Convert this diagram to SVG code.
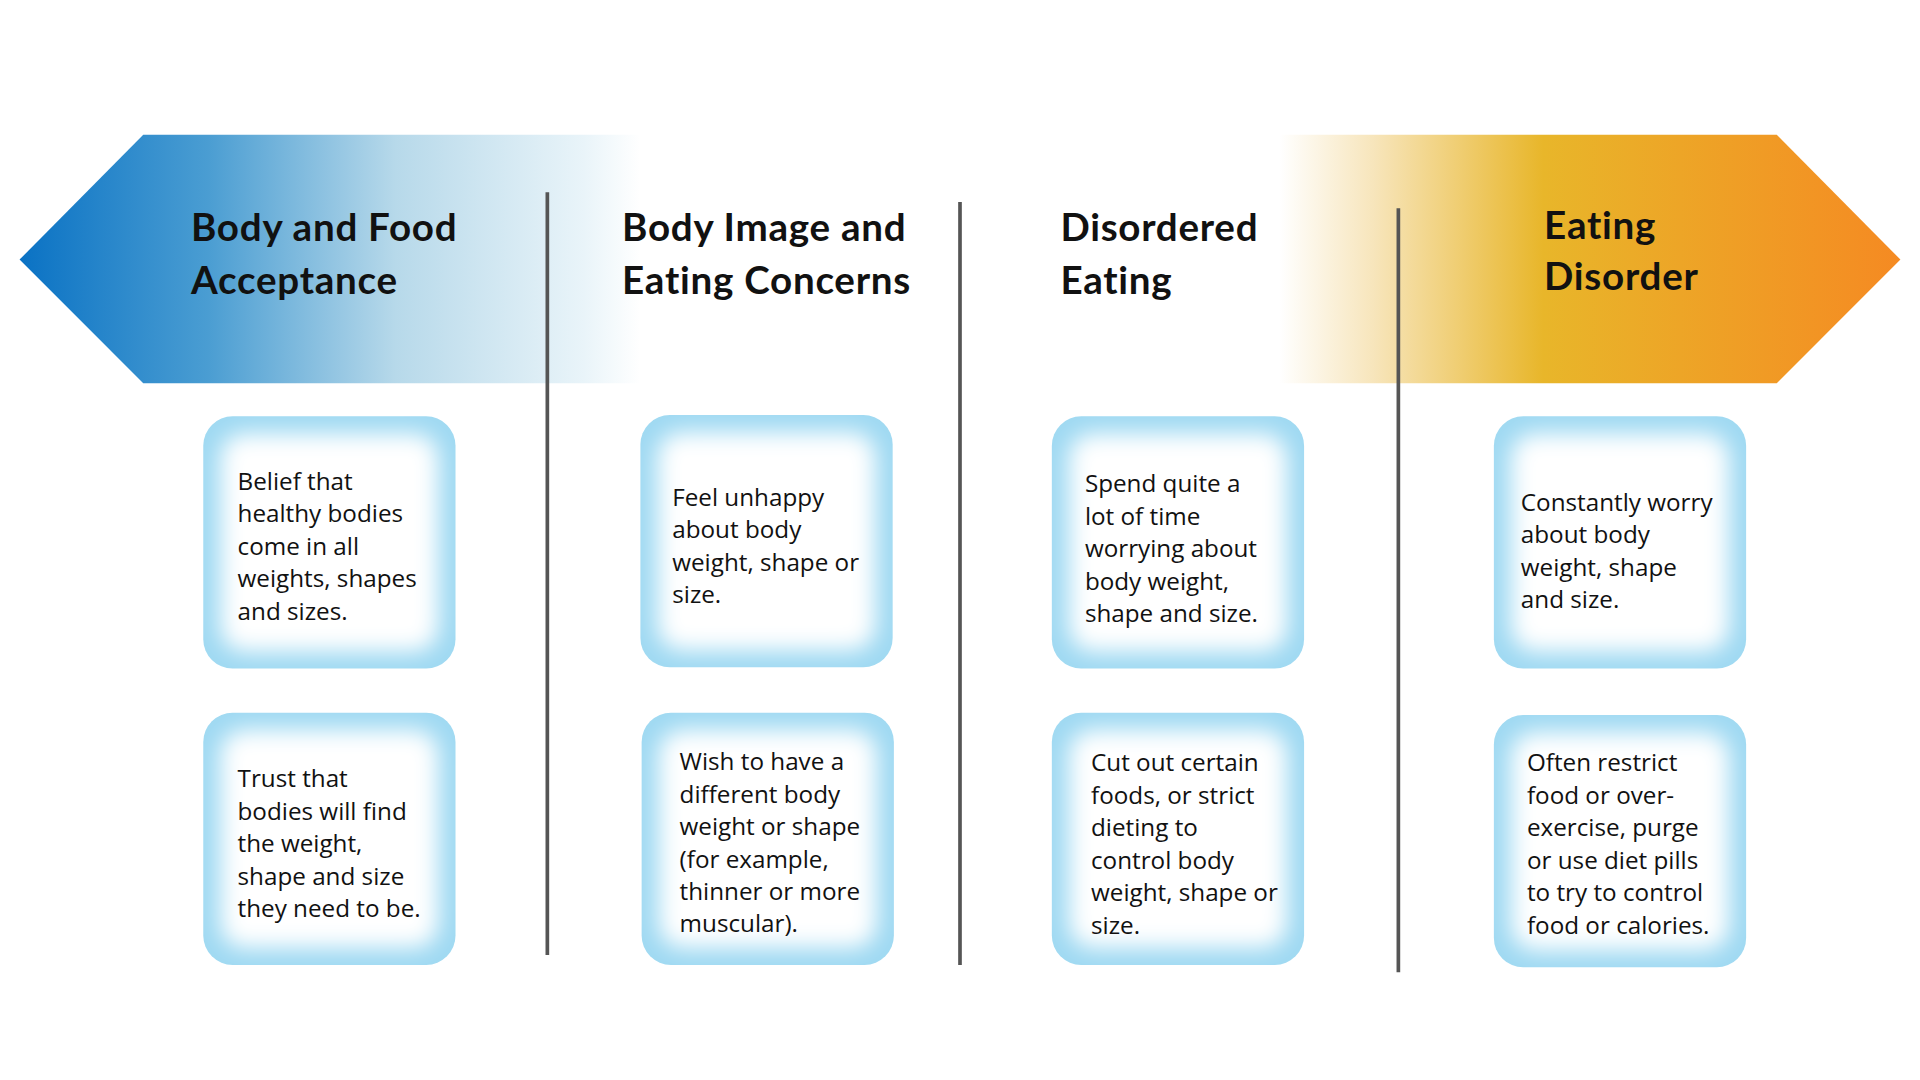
<svg xmlns="http://www.w3.org/2000/svg" width="1920" height="1080" viewBox="0 0 1920 1080">
<defs>
<linearGradient id="ban" x1="16" y1="0" x2="1552" y2="0" gradientUnits="userSpaceOnUse">
<stop offset="0" stop-color="#0a72c4"/>
<stop offset="0.1" stop-color="#4a9dd2"/>
<stop offset="0.2" stop-color="#b7d9ea"/>
<stop offset="0.3" stop-color="#e9f4f9"/>
<stop offset="0.33" stop-color="#ffffff"/>
<stop offset="0.67" stop-color="#ffffff"/>
<stop offset="0.72" stop-color="#f7e5bb"/>
<stop offset="0.81" stop-color="#e8b62a"/>
<stop offset="1" stop-color="#f58a22"/>
</linearGradient>
<filter id="glow" x="-10%" y="-10%" width="120%" height="120%"><feGaussianBlur stdDeviation="9"/></filter>
<g id="box"><rect x="0" y="0" width="206" height="206" rx="24" fill="#9fd9f2"/><rect x="14" y="14" width="178" height="178" rx="20" fill="#fff" filter="url(#glow)"/></g>
<style>
.t{font-family:Lato,"Open Sans",sans-serif;font-weight:700;font-size:31.5px;letter-spacing:0.6px;fill:#111}
.b{font-family:"Open Sans",Lato,sans-serif;font-size:19.8px;fill:#111}
.d{stroke:#555;stroke-width:3}
</style>
</defs>
<rect width="1920" height="1080" fill="#fff"/>
<g transform="scale(1.22449)">
<g id="banner"><polygon points="16,212 117,110 1451,110 1552,212 1451,313 117,313" fill="url(#ban)"/>
<text class="t" x="156" y="197">Body and Food</text><text class="t" x="156" y="240">Acceptance</text>
<text class="t" x="508" y="197">Body Image and</text><text class="t" x="508" y="240">Eating Concerns</text>
<text class="t" x="866" y="197">Disordered</text><text class="t" x="866" y="240">Eating</text>
<text class="t" x="1261" y="195">Eating</text><text class="t" x="1261" y="237">Disorder</text></g>
<g id="connectors"><line class="d" x1="447" y1="157" x2="447" y2="780"/><line class="d" x1="784" y1="165" x2="784" y2="788"/><line class="d" x1="1142" y1="170" x2="1142" y2="794"/></g>
<g id="n1"><use href="#box" x="166" y="340"/><text class="b"><tspan x="194" y="400">Belief that</tspan><tspan x="194" y="426.5">healthy bodies</tspan><tspan x="194" y="453">come in all</tspan><tspan x="194" y="479.5">weights, shapes</tspan><tspan x="194" y="506">and sizes.</tspan></text></g>
<g id="n2"><use href="#box" x="166" y="582"/><text class="b"><tspan x="194" y="643">Trust that</tspan><tspan x="194" y="669.5">bodies will find</tspan><tspan x="194" y="696">the weight,</tspan><tspan x="194" y="722.5">shape and size</tspan><tspan x="194" y="749">they need to be.</tspan></text></g>
<g id="n3"><use href="#box" x="523" y="339"/><text class="b"><tspan x="549" y="413">Feel unhappy</tspan><tspan x="549" y="439.5">about body</tspan><tspan x="549" y="466">weight, shape or</tspan><tspan x="549" y="492.5">size.</tspan></text></g>
<g id="n4"><use href="#box" x="524" y="582"/><text class="b"><tspan x="555" y="629">Wish to have a</tspan><tspan x="555" y="655.5">different body</tspan><tspan x="555" y="682">weight or shape</tspan><tspan x="555" y="708.5">(for example,</tspan><tspan x="555" y="735">thinner or more</tspan><tspan x="555" y="761.5">muscular).</tspan></text></g>
<g id="n5"><use href="#box" x="859" y="340"/><text class="b"><tspan x="886" y="402">Spend quite a</tspan><tspan x="886" y="428.5">lot of time</tspan><tspan x="886" y="455">worrying about</tspan><tspan x="886" y="481.5">body weight,</tspan><tspan x="886" y="508">shape and size.</tspan></text></g>
<g id="n6"><use href="#box" x="859" y="582"/><text class="b"><tspan x="891" y="630">Cut out certain</tspan><tspan x="891" y="656.5">foods, or strict</tspan><tspan x="891" y="683">dieting to</tspan><tspan x="891" y="709.5">control body</tspan><tspan x="891" y="736">weight, shape or</tspan><tspan x="891" y="762.5">size.</tspan></text></g>
<g id="n7"><use href="#box" x="1220" y="340"/><text class="b"><tspan x="1242" y="417">Constantly worry</tspan><tspan x="1242" y="443.5">about body</tspan><tspan x="1242" y="470">weight, shape</tspan><tspan x="1242" y="496.5">and size.</tspan></text></g>
<g id="n8"><use href="#box" x="1220" y="584"/><text class="b"><tspan x="1247" y="630">Often restrict</tspan><tspan x="1247" y="656.5">food or over-</tspan><tspan x="1247" y="683">exercise, purge</tspan><tspan x="1247" y="709.5">or use diet pills</tspan><tspan x="1247" y="736">to try to control</tspan><tspan x="1247" y="762.5">food or calories.</tspan></text></g>
</g>
</svg>
